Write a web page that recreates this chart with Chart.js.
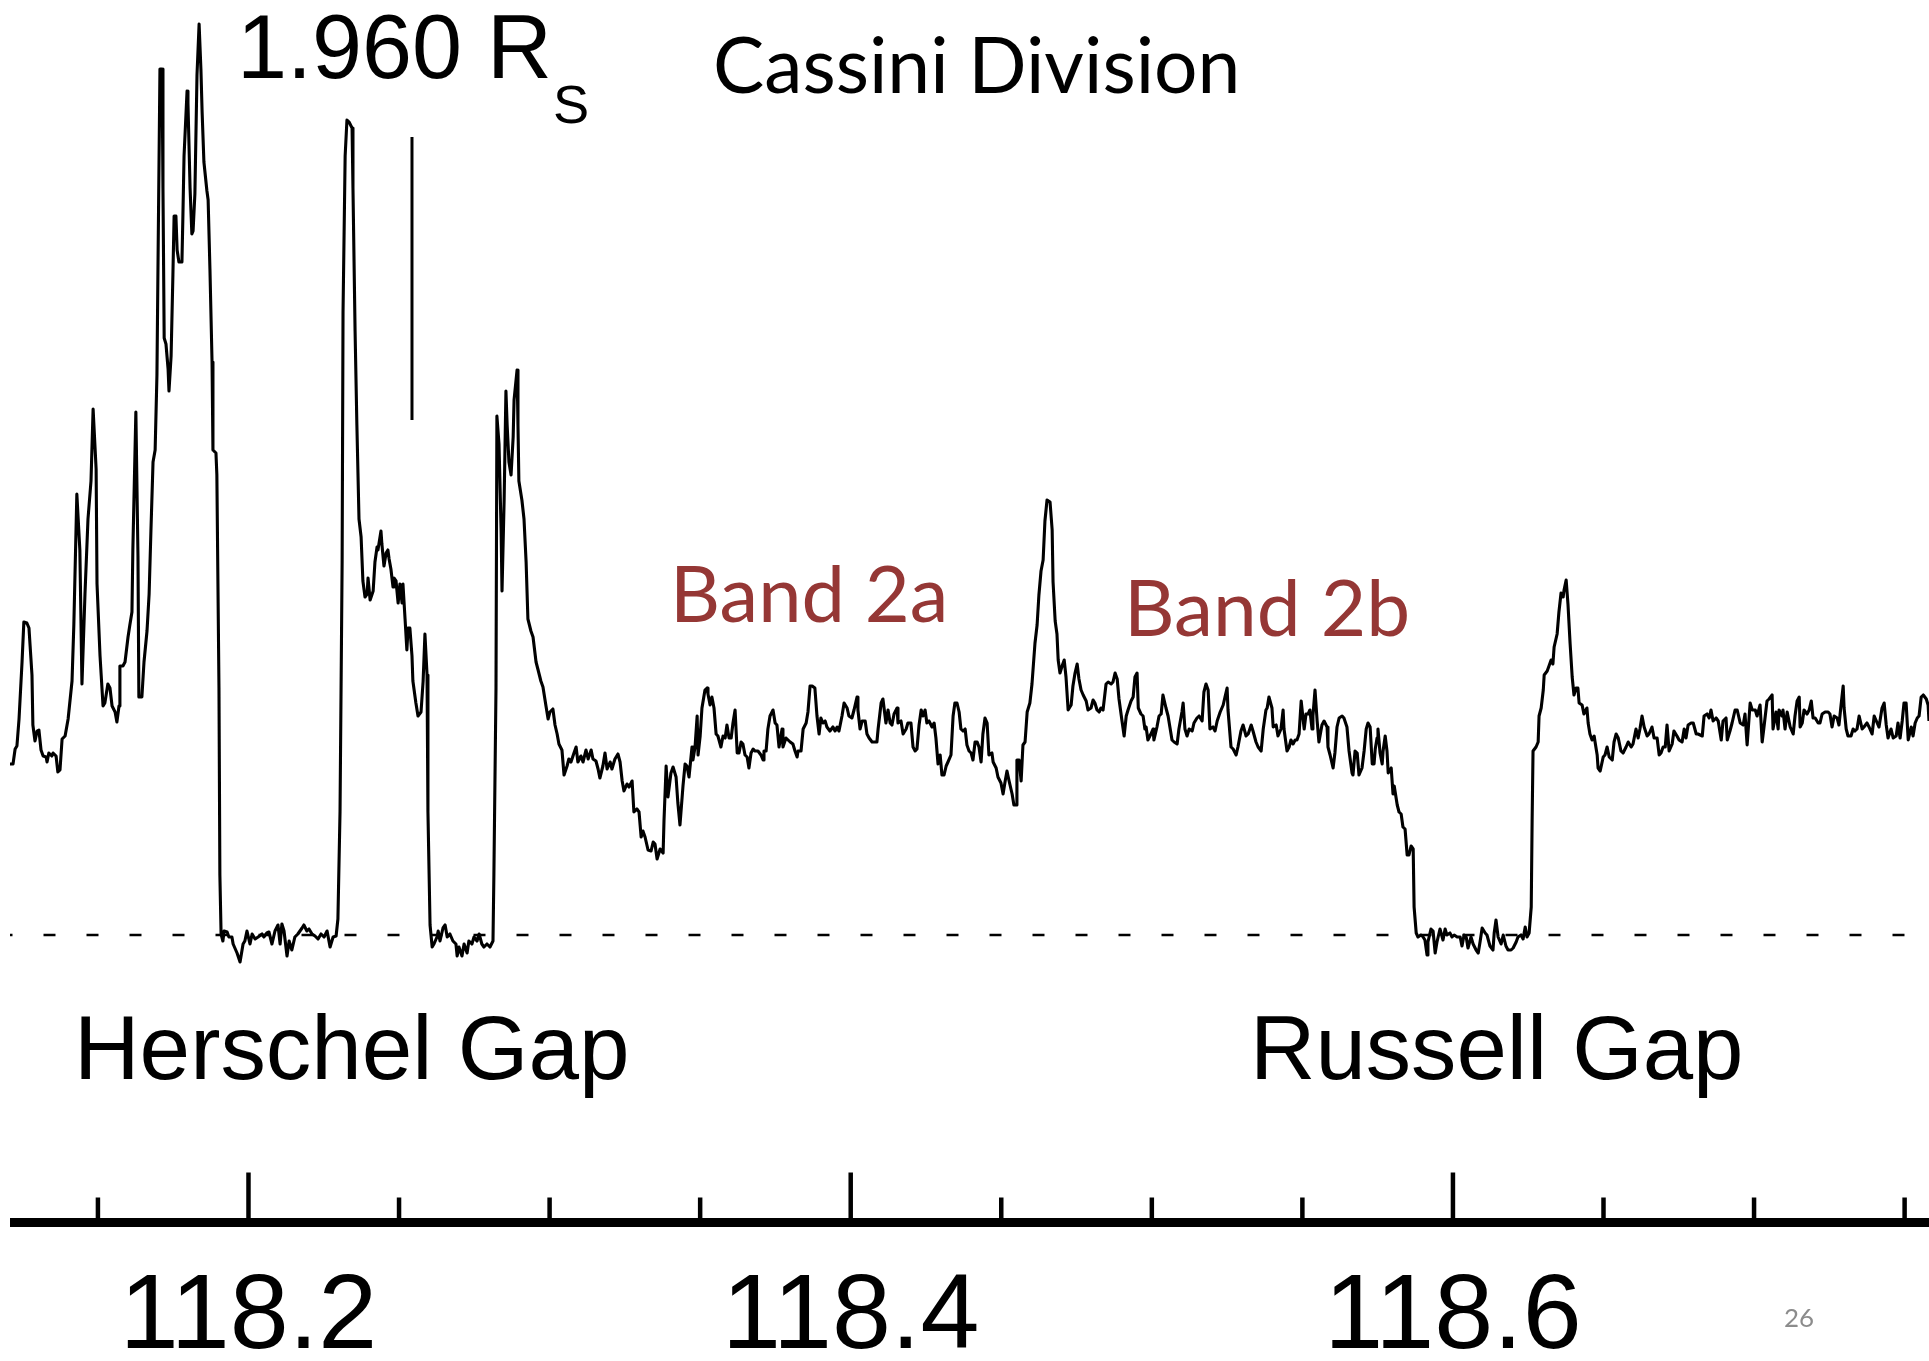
<!DOCTYPE html>
<html>
<head>
<meta charset="utf-8">
<script src="https://cdn.jsdelivr.net/npm/chart.js@4.4.1/dist/chart.umd.min.js"></script>
<style>
  html, body { margin: 0; padding: 0; background: #fff; }
  canvas { display: block; }
</style>
</head>
<body>
<canvas id="profile" width="1929" height="1361"></canvas>
<script>
// radius in km beyond 118000 km
const radiusBaseKm = 118000

const radiusOffsetKm = [
  120.8,121.8,122.5,123.1,123.8,124.8,125.4,126.4,127.1,128.1,
  128.4,129.1,129.8,130.4,131.1,131.8,132.8,133.1,133.7,134.7,
  135.1,136.1,136.7,137.4,138.1,139.1,140.1,141.4,142.0,143.0,
  144.0,144.7,145.7,146.7,147.7,148.4,149.4,149.7,150.7,151.7,
  152.3,153.3,154.0,154.7,155.7,156.3,157.0,157.3,158.3,159.0,
  160.0,160.6,161.3,161.6,162.6,163.3,163.6,164.6,165.3,166.3,
  167.0,167.6,168.3,169.0,169.6,170.0,170.6,171.3,171.6,172.0,
  172.6,173.3,173.6,174.3,174.9,175.3,175.9,176.3,176.9,177.9,
  178.2,178.6,179.6,179.9,180.6,181.2,181.6,182.2,182.9,183.6,
  184.2,184.6,185.2,186.2,186.6,187.2,187.9,188.2,189.2,189.5,
  190.2,190.5,190.9,191.5,191.9,192.9,193.5,194.5,194.9,196.2,
  197.2,198.2,198.8,199.5,200.5,201.2,202.2,203.2,204.5,205.1,
  206.1,206.8,207.8,208.8,209.8,210.5,211.1,211.8,212.8,213.5,
  214.4,215.4,216.4,217.8,218.4,219.4,220.1,221.1,222.1,223.1,
  224.1,225.1,226.1,227.1,228.1,229.1,229.7,230.4,231.1,231.4,
  // second ringlet, 1.960 Rs
  232.1,232.7,233.4,234.4,234.7,235.4,236.0,236.7,237.4,238.0,
  238.7,239.4,239.7,240.4,241.4,242.0,242.7,243.0,244.0,244.3,
  245.0,245.7,246.3,246.7,247.3,248.0,248.3,249.0,249.7,250.3,
  251.0,251.3,252.0,252.6,253.0,253.6,254.3,254.6,255.6,256.3,
  257.3,258.0,258.6,259.3,259.6,260.3,261.0,261.6,262.6,263.0,
  263.6,264.6,265.3,266.0,266.9,267.9,268.9,269.3,269.9,270.9,
  271.6,272.6,273.2,274.2,274.9,275.9,276.6,277.5,278.2,279.2,
  280.2,281.2,281.5,282.2,282.5,283.2,283.9,284.2,284.9,285.5,
  285.9,286.5,287.2,287.9,288.2,289.2,289.5,289.8,290.8,291.5,
  292.2,292.8,293.8,294.5,295.5,296.1,297.1,297.8,298.8,299.5,
  300.1,301.1,301.8,302.5,303.1,304.1,304.8,305.8,306.4,307.1,
  308.1,308.8,309.4,310.4,311.1,312.1,312.8,313.8,314.4,315.4,
  316.1,316.7,317.7,318.4,319.1,320.1,320.7,321.7,322.7,323.4,
  324.1,324.7,325.7,326.4,327.4,328.0,329.0,329.7,330.4,331.0,
  331.7,332.7,
  // band 2a
  333.7,334.4,335.0,335.7,336.7,337.7,338.0,338.7,339.3,340.3,
  341.0,342.0,342.6,343.3,344.3,345.0,345.6,346.3,347.3,347.6,
  348.3,349.0,349.3,350.0,350.6,351.6,352.3,352.6,353.3,353.9,
  354.6,355.3,355.9,356.9,357.6,358.3,358.9,359.6,360.3,360.9,
  361.6,362.3,362.9,363.6,364.2,364.9,365.6,366.2,366.9,367.6,
  368.2,369.2,370.2,370.9,371.2,371.9,372.5,373.2,374.2,374.9,
  375.5,376.2,377.2,377.5,378.5,379.2,379.9,380.8,381.5,382.2,
  382.5,383.5,384.2,385.2,385.8,386.5,387.2,388.1,388.8,389.5,
  390.1,390.8,391.5,392.1,393.1,394.1,394.8,395.5,396.1,397.1,
  397.8,398.8,399.4,400.4,401.1,402.1,402.4,403.1,403.8,404.8,
  405.4,406.1,407.1,407.7,408.7,409.1,410.1,410.7,411.7,412.4,
  413.1,413.7,414.4,415.4,415.7,416.7,417.4,418.4,419.0,420.0,
  420.7,421.4,422.0,422.7,423.4,424.0,424.7,425.3,426.0,427.0,
  427.7,428.3,429.0,429.7,430.3,431.0,431.7,432.3,433.3,434.0,
  434.6,435.3,436.0,436.6,437.3,438.0,438.6,439.3,440.0,440.6,
  441.3,442.0,442.6,443.3,443.9,444.6,445.3,445.9,446.9,447.3,
  448.3,448.9,
  // band 2b
  449.9,450.6,451.3,451.9,452.6,453.6,454.2,454.9,455.2,455.9,
  456.6,457.2,457.9,458.6,459.5,460.2,461.2,461.9,462.5,463.2,
  463.9,464.5,465.2,466.2,466.9,467.2,467.9,468.5,468.9,469.5,
  470.2,470.9,471.5,472.2,473.2,473.8,474.5,475.2,475.8,476.5,
  477.2,478.2,478.8,479.8,480.5,481.1,481.8,482.5,483.1,483.8,
  484.8,485.5,486.5,487.1,487.8,488.5,489.1,490.1,490.8,491.5,
  492.1,493.1,493.8,494.4,495.1,495.5,496.4,497.1,497.7,498.1,
  498.7,499.7,500.4,500.7,501.7,502.4,503.1,503.7,504.7,505.4,
  506.0,506.7,507.4,508.4,509.0,510.0,510.4,511.0,511.7,512.4,
  513.4,514.0,515.0,515.7,516.7,517.3,518.0,518.7,519.3,520.3,
  521.0,521.7,522.7,523.7,524.3,525.0,525.3,526.3,527.0,528.0,
  528.6,529.6,530.3,531.3,532.0,533.0,533.6,534.6,535.3,536.3,
  537.0,537.9,538.3,538.9,539.9,540.3,541.3,541.9,542.9,543.6,
  543.9,544.9,545.6,546.2,546.9,547.6,548.2,548.9,549.6,550.2,
  550.6,551.2,551.9,552.5,553.2,553.5,554.2,554.9,555.5,556.5,
  557.2,558.2,558.5,559.2,560.2,560.8,561.5,562.2,563.2,563.8,
  564.8,565.5,566.5,566.8,567.5,568.2,568.8,569.8,570.5,571.2,
  571.8,572.5,573.2,573.8,574.2,574.8,575.1,575.8,576.5,576.8,
  577.5,578.1,578.5,579.5,580.1,580.5,581.5,582.1,582.8,583.4,
  584.1,584.8,585.4,586.1,586.8,587.1,587.8,588.4,589.4,590.1,
  590.7,591.4,591.7,592.7,593.4,594.1,594.7,
  // russell gap and outer part
  595.7,596.7,597.4,598.0,599.0,599.7,600.4,601.4,602.4,603.0,
  603.7,604.4,605.0,606.0,606.7,607.7,608.4,609.0,609.7,610.7,
  611.3,612.3,613.3,613.7,614.3,615.0,616.0,616.7,617.6,618.3,
  619.3,620.0,621.0,621.6,622.6,623.3,624.0,624.6,625.3,626.0,
  626.3,626.6,627.6,628.3,628.6,629.3,630.0,630.3,631.3,631.9,
  632.6,633.2,633.6,634.6,635.2,635.9,636.6,636.9,637.6,638.2,
  638.9,639.6,640.2,640.9,641.5,641.9,642.9,643.5,644.5,644.9,
  645.5,646.2,646.9,647.2,647.9,648.2,648.9,649.9,650.5,651.2,
  651.9,652.9,653.5,654.2,654.9,655.8,656.5,657.5,658.2,659.2,
  659.8,660.8,661.5,662.1,662.8,663.5,664.5,665.1,666.1,666.8,
  667.8,668.5,669.1,669.8,670.5,671.1,671.8,672.8,673.4,674.4,
  675.1,676.1,676.8,677.4,678.1,679.1,679.8,680.8,681.4,682.8,
  683.4,684.4,685.1,685.7,686.4,687.4,688.1,689.1,689.7,690.7,
  691.1,692.0,692.7,693.7,694.4,695.4,696.4,697.0,697.7,698.7,
  699.4,700.4,701.0,702.0,702.7,703.3,704.3,705.0,706.0,706.3,
  707.3,708.0,708.3,709.3,709.6,710.3,711.0,712.0,713.0,713.6,
  714.3,715.0,715.3,716.0,716.6,717.6,718.3,719.0,719.6,720.3,
  721.3,721.9,722.6,723.6,724.6,725.2,725.9,726.6,727.6,728.2,
  728.9,729.6,729.9,730.6,731.2,732.2,732.9,733.5,734.2,734.9,
  735.9,736.5,737.5,738.2,739.2,739.9,740.9,741.5,742.5,743.2,
  743.9,744.5,745.5,746.2,747.2,747.8,748.5,749.2,749.8,750.5,
  751.2,752.2,752.8,753.5,754.2,754.8,755.5,756.2,757.2,757.8,
  758.1
]

// brightness, arbitrary units (0 = empty gap level)
const brightness = [
  1.71,1.71,1.86,1.89,2.16,2.73,3.13,3.12,3.07,2.60,
  2.10,1.94,2.04,2.05,1.85,1.79,1.78,1.73,1.82,1.79,
  1.82,1.79,1.63,1.65,1.96,1.99,2.16,2.54,3.10,4.41,
  3.85,2.51,3.41,4.16,4.54,5.26,4.66,3.51,2.79,2.29,
  2.32,2.51,2.47,2.29,2.23,2.13,2.29,2.69,2.69,2.73,
  2.98,3.10,3.23,3.85,5.23,3.79,2.38,2.38,2.73,3.04,
  3.41,4.04,4.73,4.85,5.60,6.85,8.66,8.66,7.47,5.97,
  5.91,5.66,5.44,5.79,6.60,7.19,7.19,6.85,6.73,6.73,
  7.16,7.79,8.44,8.32,7.47,7.01,7.04,7.41,8.60,9.11,
  8.66,8.23,7.73,7.44,7.35,6.66,5.73,4.85,4.82,4.60,
  2.47,0.60,0.01,-0.06,0.04,0.03,-0.02,-0.02,-0.09,-0.18,
  -0.27,-0.09,-0.06,0.04,-0.09,0.01,-0.04,-0.02,0.01,-0.02,
  0.02,0.03,-0.09,0.04,0.10,-0.09,0.11,0.04,-0.21,-0.06,
  -0.15,-0.02,0.01,0.07,0.10,0.04,0.06,0.01,-0.01,-0.04,
  0.01,-0.02,0.04,-0.12,-0.02,-0.01,0.16,1.23,3.73,6.23,
  7.79,8.15,8.13,8.07,7.47,6.04,5.10,4.16,3.98,3.54,
  3.38,3.41,3.57,3.35,3.44,3.73,3.88,3.85,4.04,3.91,
  3.69,3.82,3.85,3.76,3.66,3.48,3.57,3.54,3.32,3.51,
  3.32,3.51,3.16,2.85,3.07,3.07,2.79,2.54,2.32,2.19,
  2.23,2.54,3.01,2.60,1.23,0.10,-0.12,-0.09,-0.02,0.04,
  -0.06,0.07,0.10,-0.02,0.01,-0.06,-0.09,-0.21,-0.12,-0.21,
  -0.09,-0.18,-0.06,-0.09,-0.02,-0.06,0.01,-0.09,-0.12,-0.09,
  -0.12,-0.06,0.60,2.47,5.19,4.91,4.04,3.44,4.35,5.44,
  5.10,4.73,4.60,4.98,5.35,5.65,5.10,4.54,4.35,4.16,
  3.73,3.16,3.04,2.98,2.73,2.66,2.54,2.48,2.29,2.16,
  2.23,2.26,2.10,2.01,1.91,1.85,1.60,1.69,1.76,1.73,
  1.82,1.88,1.73,1.79,1.73,1.85,1.76,1.85,1.76,1.74,
  1.66,1.57,1.69,1.82,1.66,1.73,1.66,1.76,1.81,1.73,
  1.54,1.44,1.51,1.48,1.54,1.23,1.26,1.23,0.98,1.04,
  0.98,0.85,
  0.84,0.93,0.91,0.76,0.86,0.82,1.15,1.69,1.38,1.62,
  1.68,1.58,1.32,1.10,1.49,1.71,1.69,1.58,1.88,1.75,
  1.88,2.19,1.80,1.99,2.27,2.45,2.47,2.41,2.30,2.38,
  2.27,2.01,1.99,1.88,1.99,1.97,2.10,1.97,1.97,2.12,
  2.25,1.82,1.82,1.93,1.91,1.80,1.78,1.67,1.82,1.86,
  1.84,1.84,1.80,1.75,1.84,1.84,2.06,2.19,2.25,2.12,
  2.10,1.88,2.06,1.88,1.97,1.95,1.93,1.91,1.84,1.78,
  1.84,1.84,2.06,2.12,2.23,2.49,2.49,2.47,2.19,2.01,
  2.17,2.12,2.14,2.08,2.04,2.08,2.04,2.08,2.04,2.19,
  2.32,2.27,2.19,2.17,2.25,2.38,2.25,2.06,2.14,2.14,
  2.01,1.97,1.93,1.93,1.93,2.06,2.32,2.36,2.12,2.25,
  2.12,2.10,2.21,2.27,2.12,2.14,2.01,2.06,2.12,2.12,
  1.88,1.84,1.86,2.10,2.25,2.19,2.25,2.12,2.14,2.08,
  2.12,1.97,1.71,1.80,1.60,1.60,1.69,1.73,1.80,2.19,
  2.32,2.32,2.23,2.06,2.04,2.06,1.90,1.84,1.82,1.75,
  1.93,1.93,1.88,1.73,2.01,2.17,2.12,1.80,1.82,1.73,
  1.67,1.58,
  1.52,1.41,1.54,1.64,1.54,1.41,1.30,1.30,1.75,1.75,
  1.54,1.90,1.93,2.23,2.32,2.51,2.92,3.10,3.40,3.64,
  3.75,4.14,4.35,4.33,4.05,3.53,3.14,3.01,2.75,2.62,
  2.69,2.75,2.58,2.25,2.30,2.49,2.62,2.71,2.56,2.45,
  2.40,2.34,2.25,2.27,2.35,2.32,2.25,2.23,2.27,2.25,
  2.51,2.53,2.51,2.53,2.62,2.56,2.36,2.14,1.99,2.19,
  2.25,2.34,2.38,2.58,2.62,2.27,2.21,2.19,2.06,2.08,
  1.95,2.01,2.06,1.95,2.08,2.19,2.21,2.40,2.27,2.19,
  2.08,1.95,1.93,1.91,2.06,2.23,2.32,2.06,1.99,2.06,
  2.04,2.12,2.17,2.19,2.14,2.43,2.51,2.45,2.06,2.08,
  2.04,2.14,2.23,2.30,2.38,2.47,2.25,1.88,1.86,1.80,
  1.88,2.04,2.10,1.99,2.01,2.10,2.04,1.93,1.88,1.84,
  2.06,2.25,2.27,2.38,2.27,2.08,2.10,1.99,2.06,2.25,
  2.06,1.84,1.88,1.95,1.91,1.95,1.95,2.01,2.34,2.17,
  2.06,2.21,2.21,2.25,2.06,2.19,2.45,2.14,1.93,2.10,
  2.14,2.08,1.88,1.80,1.67,1.82,2.08,2.17,2.19,2.17,
  2.08,1.84,1.62,1.60,1.84,1.82,1.60,1.67,1.84,2.06,
  2.12,2.08,1.71,1.71,1.86,1.97,2.06,1.82,1.71,1.84,
  1.99,1.84,1.62,1.67,1.41,1.49,1.30,1.23,1.21,1.08,
  1.06,0.80,0.80,0.89,0.86,0.28,0.02,-0.02,0.00,-0.02,
  -0.05,-0.20,-0.07,0.06,0.04,-0.18,-0.07,
  0.06,-0.05,0.06,0.00,0.02,-0.02,0.00,-0.02,-0.02,-0.11,
  0.00,-0.02,-0.13,-0.02,-0.09,-0.15,-0.18,-0.07,0.07,0.02,
  0.00,-0.11,-0.15,0.02,0.15,-0.02,-0.09,0.00,-0.11,-0.15,
  -0.15,-0.13,-0.07,-0.02,0.00,-0.04,0.08,-0.02,0.02,0.28,
  1.15,1.84,1.88,1.93,2.19,2.27,2.45,2.60,2.64,2.69,
  2.75,2.71,2.88,3.01,3.23,3.42,3.38,3.45,3.55,3.31,
  2.92,2.58,2.40,2.47,2.47,2.32,2.30,2.21,2.27,2.12,
  2.01,1.95,1.99,1.93,1.80,1.67,1.64,1.78,1.80,1.88,
  1.78,1.75,1.93,2.01,1.97,1.84,1.82,1.88,1.93,1.88,
  1.91,2.06,1.97,2.06,2.19,2.08,1.99,2.01,2.08,1.97,
  1.97,1.80,1.82,1.88,1.88,2.10,1.84,1.91,2.04,1.99,
  1.95,1.93,2.06,1.97,2.10,2.12,2.12,2.01,2.01,1.99,
  2.19,2.21,2.17,2.25,2.14,2.17,2.14,1.95,2.14,2.17,
  1.95,2.04,2.12,2.25,2.25,2.12,2.10,2.21,1.90,2.32,
  2.25,2.25,2.19,2.30,1.93,2.08,2.34,2.36,2.40,2.06,
  2.23,2.06,2.25,2.19,2.25,2.06,2.23,2.08,2.01,2.19,
  2.34,2.38,2.08,2.12,2.25,2.21,2.25,2.34,2.17,2.17,
  2.12,2.12,2.21,2.23,2.23,2.21,2.08,2.19,2.17,2.10,
  2.30,2.49,2.27,2.06,1.99,1.99,2.06,2.04,2.06,2.19,
  2.06,2.08,2.12,2.08,2.01,2.19,2.12,2.08,2.27,2.32,
  2.10,1.97,2.06,1.97,1.99,2.12,1.97,2.14,2.32,2.32,
  1.95,2.08,1.99,2.12,2.17,2.19,2.38,2.40,2.36,2.30,
  2.14
]

// 1.960 Rs marker
const markerRadius = 254.3
const markerSpan = [5.15, 7.98]
const gapLevel = 0

const radiusMin = 120.8
const radiusMax = 758.1
const majorTicks = [200, 400, 600]
const minorTicks = [150, 250, 300, 350, 450, 500, 550, 650, 700, 750]

const labels = [
  { text: '1.960 R', left: 243, base: 78, width: 305, family: 'Liberation Sans', color: '#000' },
  { text: 'S', left: 555, base: 123, width: 32, family: 'Liberation Sans', color: '#000' },
  { text: 'Cassini Division', left: 716, base: 93, width: 520, family: 'Lato', color: '#000' },
  { text: 'Band 2a', left: 677, base: 622, width: 267, family: 'Lato', color: '#953735' },
  { text: 'Band 2b', left: 1131, base: 636, width: 276, family: 'Lato', color: '#953735' },
  { text: 'Herschel Gap', left: 81, base: 1079, width: 545, family: 'Liberation Sans', color: '#000' },
  { text: 'Russell Gap', left: 1257, base: 1079, width: 483, family: 'Liberation Sans', color: '#000' },
  { text: '26', left: 1785, base: 1327, width: 28, family: 'Lato', color: '#8c8c8c' },
]

// axis line with ticks pointing up
const upTicks = {
  id: 'upTicks',
  afterDraw(chart) {
    const { ctx, scales: { x } } = chart
    const base = x.top
    ctx.save()
    ctx.strokeStyle = '#000'
    ctx.lineWidth = 9
    ctx.beginPath()
    ctx.moveTo(x.left, base)
    ctx.lineTo(x.right, base)
    ctx.stroke()
    ctx.lineWidth = 4.5
    const draw = (v, len) => {
      const px = x.getPixelForValue(v)
      ctx.beginPath()
      ctx.moveTo(px, base)
      ctx.lineTo(px, base - len)
      ctx.stroke()
    }
    majorTicks.forEach(v => draw(v, 50))
    minorTicks.forEach(v => draw(v, 25))
    ctx.restore()
  },
}

// text fitted to the measured glyph width
const textLabels = {
  id: 'textLabels',
  afterDraw(chart) {
    const ctx = chart.ctx
    ctx.save()
    ctx.textAlign = 'left'
    ctx.textBaseline = 'alphabetic'
    labels.forEach(l => {
      ctx.font = `100px "${l.family}"`
      let m = ctx.measureText(l.text)
      let size = 100 * l.width / (m.actualBoundingBoxLeft + m.actualBoundingBoxRight)
      ctx.font = `${size}px "${l.family}"`
      m = ctx.measureText(l.text)
      ctx.fillStyle = l.color
      ctx.fillText(l.text, l.left + m.actualBoundingBoxLeft, l.base)
    })
    ctx.restore()
  },
}

new Chart(document.getElementById('profile'), {
  type: 'line',
  data: {
    datasets: [
      {
        data: radiusOffsetKm.map((r, i) => ({ x: r, y: brightness[i] })),
        borderColor: '#000',
        borderWidth: 3.1,
        borderJoinStyle: 'round',
        pointRadius: 0,
        order: 0,
      },
      {
        data: [{ x: markerRadius, y: markerSpan[0] }, { x: markerRadius, y: markerSpan[1] }],
        borderColor: '#000',
        borderWidth: 3,
        pointRadius: 0,
        order: 1,
      },
      {
        data: [{ x: radiusMin, y: gapLevel }, { x: radiusMax, y: gapLevel }],
        borderColor: '#000',
        borderWidth: 2.6,
        borderDash: [12, 31],
        borderDashOffset: 9.5,
        pointRadius: 0,
        order: 2,
      },
    ],
  },
  options: {
    responsive: false,
    animation: false,
    layout: { padding: { left: 10, right: 0, top: 0, bottom: 0 } },
    plugins: {
      legend: { display: false },
      tooltip: { enabled: false },
    },
    scales: {
      x: {
        type: 'linear',
        min: radiusMin,
        max: radiusMax,
        grid: { display: false, drawTicks: false },
        border: { display: false },
        afterBuildTicks: scale => {
          scale.ticks = majorTicks.map(value => ({ value }))
        },
        afterFit: scale => {
          scale.height = 138.5
        },
        ticks: {
          autoSkip: false,
          maxRotation: 0,
          padding: 33,
          color: '#000',
          font: { family: 'Liberation Sans', size: 106 },
          callback: v => ((radiusBaseKm + v) / 1000).toFixed(1),
        },
      },
      y: {
        display: false,
        min: -2.875,
        max: 9.35,
      },
    },
  },
  plugins: [upTicks, textLabels],
})
</script>
</body>
</html>
